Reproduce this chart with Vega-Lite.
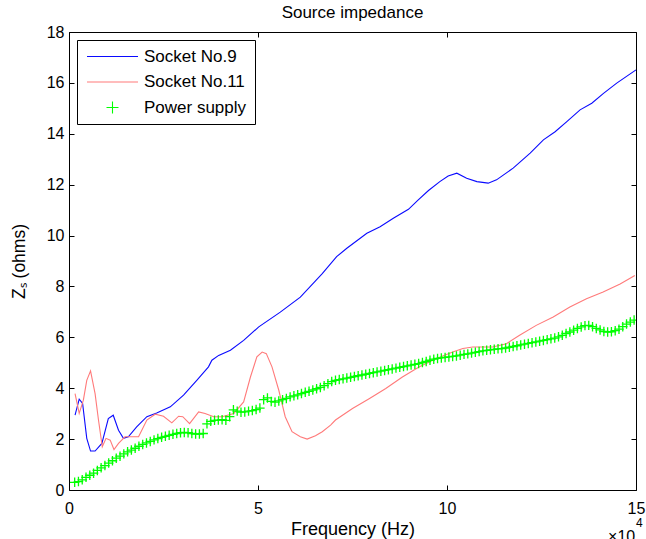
{
  "$schema": "https://vega.github.io/schema/vega-lite/v6.json",
  "width": 567,
  "height": 458,
  "autosize": {"type": "none"},
  "padding": {"left": 69, "top": 32, "right": 10, "bottom": 49},
  "background": "white",
  "title": {"text": "Source impedance", "fontSize": 17, "font": "Liberation Sans", "fontWeight": "normal", "color": "black", "offset": 2, "anchor": "middle"},
  "config": {
    "view": {"stroke": "black", "strokeWidth": 1},
    "font": "Liberation Sans",
    "axis": {"domain": false, "grid": false, "tickColor": "black", "tickSize": -5, "tickWidth": 1, "labelColor": "black", "labelFont": "Liberation Sans", "labelFontSize": 16, "titleFont": "Liberation Sans", "titleFontWeight": "normal", "titleColor": "black", "titleFontSize": 17.5}
  },
  "data": {"values": [
    {"f":0.16,"z":2.94,"series":"Socket No.9"},{"f":0.27,"z":3.57,"series":"Socket No.9"},{"f":0.36,"z":3.4,"series":"Socket No.9"},{"f":0.47,"z":2.03,"series":"Socket No.9"},{"f":0.57,"z":1.53,"series":"Socket No.9"},{"f":0.69,"z":1.53,"series":"Socket No.9"},{"f":0.87,"z":1.83,"series":"Socket No.9"},{"f":1.04,"z":2.81,"series":"Socket No.9"},{"f":1.17,"z":2.94,"series":"Socket No.9"},{"f":1.31,"z":2.35,"series":"Socket No.9"},{"f":1.44,"z":2.03,"series":"Socket No.9"},{"f":1.57,"z":2.09,"series":"Socket No.9"},{"f":1.79,"z":2.48,"series":"Socket No.9"},{"f":2.06,"z":2.88,"series":"Socket No.9"},{"f":2.32,"z":3.03,"series":"Socket No.9"},{"f":2.68,"z":3.27,"series":"Socket No.9"},{"f":3.03,"z":3.73,"series":"Socket No.9"},{"f":3.38,"z":4.31,"series":"Socket No.9"},{"f":3.69,"z":4.84,"series":"Socket No.9"},{"f":3.78,"z":5.1,"series":"Socket No.9"},{"f":3.96,"z":5.29,"series":"Socket No.9"},{"f":4.27,"z":5.49,"series":"Socket No.9"},{"f":4.62,"z":5.88,"series":"Socket No.9"},{"f":5.02,"z":6.41,"series":"Socket No.9"},{"f":5.59,"z":6.99,"series":"Socket No.9"},{"f":6.12,"z":7.58,"series":"Socket No.9"},{"f":6.7,"z":8.5,"series":"Socket No.9"},{"f":7.08,"z":9.17,"series":"Socket No.9"},{"f":7.35,"z":9.5,"series":"Socket No.9"},{"f":7.88,"z":10.09,"series":"Socket No.9"},{"f":8.23,"z":10.35,"series":"Socket No.9"},{"f":8.58,"z":10.68,"series":"Socket No.9"},{"f":8.98,"z":11.03,"series":"Socket No.9"},{"f":9.24,"z":11.4,"series":"Socket No.9"},{"f":9.51,"z":11.77,"series":"Socket No.9"},{"f":9.81,"z":12.12,"series":"Socket No.9"},{"f":10.03,"z":12.34,"series":"Socket No.9"},{"f":10.26,"z":12.45,"series":"Socket No.9"},{"f":10.52,"z":12.25,"series":"Socket No.9"},{"f":10.79,"z":12.12,"series":"Socket No.9"},{"f":11.09,"z":12.06,"series":"Socket No.9"},{"f":11.31,"z":12.19,"series":"Socket No.9"},{"f":11.75,"z":12.65,"series":"Socket No.9"},{"f":12.2,"z":13.24,"series":"Socket No.9"},{"f":12.55,"z":13.76,"series":"Socket No.9"},{"f":12.86,"z":14.08,"series":"Socket No.9"},{"f":13.17,"z":14.48,"series":"Socket No.9"},{"f":13.52,"z":14.94,"series":"Socket No.9"},{"f":13.83,"z":15.2,"series":"Socket No.9"},{"f":14.14,"z":15.59,"series":"Socket No.9"},{"f":14.49,"z":15.99,"series":"Socket No.9"},{"f":15.0,"z":16.51,"series":"Socket No.9"},
    {"f":0.16,"z":3.79,"series":"Socket No.11"},{"f":0.27,"z":3.01,"series":"Socket No.11"},{"f":0.38,"z":3.53,"series":"Socket No.11"},{"f":0.47,"z":4.31,"series":"Socket No.11"},{"f":0.57,"z":4.68,"series":"Socket No.11"},{"f":0.69,"z":3.79,"series":"Socket No.11"},{"f":0.78,"z":2.75,"series":"Socket No.11"},{"f":0.88,"z":1.7,"series":"Socket No.11"},{"f":0.98,"z":2.03,"series":"Socket No.11"},{"f":1.09,"z":1.96,"series":"Socket No.11"},{"f":1.19,"z":1.59,"series":"Socket No.11"},{"f":1.31,"z":1.83,"series":"Socket No.11"},{"f":1.48,"z":2.09,"series":"Socket No.11"},{"f":1.84,"z":2.09,"series":"Socket No.11"},{"f":2.06,"z":2.75,"series":"Socket No.11"},{"f":2.28,"z":2.98,"series":"Socket No.11"},{"f":2.5,"z":2.9,"series":"Socket No.11"},{"f":2.72,"z":2.64,"series":"Socket No.11"},{"f":2.9,"z":2.9,"series":"Socket No.11"},{"f":3.01,"z":2.88,"series":"Socket No.11"},{"f":3.19,"z":2.61,"series":"Socket No.11"},{"f":3.43,"z":3.07,"series":"Socket No.11"},{"f":3.6,"z":3.01,"series":"Socket No.11"},{"f":3.83,"z":2.88,"series":"Socket No.11"},{"f":4.05,"z":2.88,"series":"Socket No.11"},{"f":4.36,"z":3.01,"series":"Socket No.11"},{"f":4.62,"z":3.46,"series":"Socket No.11"},{"f":4.8,"z":4.44,"series":"Socket No.11"},{"f":4.97,"z":5.23,"series":"Socket No.11"},{"f":5.11,"z":5.42,"series":"Socket No.11"},{"f":5.22,"z":5.36,"series":"Socket No.11"},{"f":5.37,"z":4.84,"series":"Socket No.11"},{"f":5.55,"z":3.92,"series":"Socket No.11"},{"f":5.72,"z":2.88,"series":"Socket No.11"},{"f":5.9,"z":2.29,"series":"Socket No.11"},{"f":6.12,"z":2.09,"series":"Socket No.11"},{"f":6.3,"z":2.0,"series":"Socket No.11"},{"f":6.52,"z":2.13,"series":"Socket No.11"},{"f":6.7,"z":2.29,"series":"Socket No.11"},{"f":6.92,"z":2.55,"series":"Socket No.11"},{"f":7.05,"z":2.75,"series":"Socket No.11"},{"f":7.5,"z":3.2,"series":"Socket No.11"},{"f":7.94,"z":3.59,"series":"Socket No.11"},{"f":8.38,"z":3.99,"series":"Socket No.11"},{"f":8.82,"z":4.44,"series":"Socket No.11"},{"f":9.27,"z":4.84,"series":"Socket No.11"},{"f":9.71,"z":5.16,"series":"Socket No.11"},{"f":10.15,"z":5.42,"series":"Socket No.11"},{"f":10.42,"z":5.56,"series":"Socket No.11"},{"f":10.68,"z":5.62,"series":"Socket No.11"},{"f":11.21,"z":5.62,"series":"Socket No.11"},{"f":11.57,"z":5.75,"series":"Socket No.11"},{"f":11.92,"z":6.08,"series":"Socket No.11"},{"f":12.36,"z":6.47,"series":"Socket No.11"},{"f":12.81,"z":6.8,"series":"Socket No.11"},{"f":13.25,"z":7.19,"series":"Socket No.11"},{"f":13.69,"z":7.52,"series":"Socket No.11"},{"f":14.13,"z":7.78,"series":"Socket No.11"},{"f":14.58,"z":8.1,"series":"Socket No.11"},{"f":14.97,"z":8.43,"series":"Socket No.11"},
    {"f":0.15,"z":0.3,"series":"Power supply"},{"f":0.25,"z":0.33,"series":"Power supply"},{"f":0.35,"z":0.4,"series":"Power supply"},{"f":0.45,"z":0.5,"series":"Power supply"},{"f":0.55,"z":0.58,"series":"Power supply"},{"f":0.65,"z":0.66,"series":"Power supply"},{"f":0.75,"z":0.77,"series":"Power supply"},{"f":0.85,"z":0.87,"series":"Power supply"},{"f":0.95,"z":0.96,"series":"Power supply"},{"f":1.05,"z":1.06,"series":"Power supply"},{"f":1.15,"z":1.15,"series":"Power supply"},{"f":1.25,"z":1.25,"series":"Power supply"},{"f":1.35,"z":1.33,"series":"Power supply"},{"f":1.45,"z":1.42,"series":"Power supply"},{"f":1.55,"z":1.5,"series":"Power supply"},{"f":1.65,"z":1.57,"series":"Power supply"},{"f":1.75,"z":1.64,"series":"Power supply"},{"f":1.85,"z":1.72,"series":"Power supply"},{"f":1.95,"z":1.79,"series":"Power supply"},{"f":2.05,"z":1.85,"series":"Power supply"},{"f":2.15,"z":1.91,"series":"Power supply"},{"f":2.25,"z":1.97,"series":"Power supply"},{"f":2.35,"z":2.02,"series":"Power supply"},{"f":2.45,"z":2.07,"series":"Power supply"},{"f":2.55,"z":2.11,"series":"Power supply"},{"f":2.65,"z":2.15,"series":"Power supply"},{"f":2.75,"z":2.19,"series":"Power supply"},{"f":2.85,"z":2.22,"series":"Power supply"},{"f":2.95,"z":2.25,"series":"Power supply"},{"f":3.05,"z":2.26,"series":"Power supply"},{"f":3.15,"z":2.25,"series":"Power supply"},{"f":3.25,"z":2.22,"series":"Power supply"},{"f":3.35,"z":2.2,"series":"Power supply"},{"f":3.45,"z":2.2,"series":"Power supply"},{"f":3.55,"z":2.22,"series":"Power supply"},{"f":3.65,"z":2.6,"series":"Power supply"},{"f":3.75,"z":2.7,"series":"Power supply"},{"f":3.85,"z":2.74,"series":"Power supply"},{"f":3.95,"z":2.75,"series":"Power supply"},{"f":4.05,"z":2.76,"series":"Power supply"},{"f":4.15,"z":2.74,"series":"Power supply"},{"f":4.25,"z":2.88,"series":"Power supply"},{"f":4.35,"z":3.15,"series":"Power supply"},{"f":4.45,"z":3.1,"series":"Power supply"},{"f":4.55,"z":3.06,"series":"Power supply"},{"f":4.65,"z":3.07,"series":"Power supply"},{"f":4.75,"z":3.1,"series":"Power supply"},{"f":4.85,"z":3.12,"series":"Power supply"},{"f":4.95,"z":3.16,"series":"Power supply"},{"f":5.05,"z":3.22,"series":"Power supply"},{"f":5.15,"z":3.55,"series":"Power supply"},{"f":5.25,"z":3.62,"series":"Power supply"},{"f":5.35,"z":3.48,"series":"Power supply"},{"f":5.45,"z":3.45,"series":"Power supply"},{"f":5.55,"z":3.5,"series":"Power supply"},{"f":5.65,"z":3.55,"series":"Power supply"},{"f":5.75,"z":3.6,"series":"Power supply"},{"f":5.85,"z":3.66,"series":"Power supply"},{"f":5.95,"z":3.7,"series":"Power supply"},{"f":6.05,"z":3.74,"series":"Power supply"},{"f":6.15,"z":3.79,"series":"Power supply"},{"f":6.25,"z":3.84,"series":"Power supply"},{"f":6.35,"z":3.88,"series":"Power supply"},{"f":6.45,"z":3.93,"series":"Power supply"},{"f":6.55,"z":3.98,"series":"Power supply"},{"f":6.65,"z":4.03,"series":"Power supply"},{"f":6.75,"z":4.1,"series":"Power supply"},{"f":6.85,"z":4.18,"series":"Power supply"},{"f":6.95,"z":4.26,"series":"Power supply"},{"f":7.05,"z":4.31,"series":"Power supply"},{"f":7.15,"z":4.34,"series":"Power supply"},{"f":7.25,"z":4.37,"series":"Power supply"},{"f":7.35,"z":4.4,"series":"Power supply"},{"f":7.45,"z":4.43,"series":"Power supply"},{"f":7.55,"z":4.46,"series":"Power supply"},{"f":7.65,"z":4.49,"series":"Power supply"},{"f":7.75,"z":4.52,"series":"Power supply"},{"f":7.85,"z":4.55,"series":"Power supply"},{"f":7.95,"z":4.58,"series":"Power supply"},{"f":8.05,"z":4.61,"series":"Power supply"},{"f":8.15,"z":4.64,"series":"Power supply"},{"f":8.25,"z":4.67,"series":"Power supply"},{"f":8.35,"z":4.7,"series":"Power supply"},{"f":8.45,"z":4.73,"series":"Power supply"},{"f":8.55,"z":4.76,"series":"Power supply"},{"f":8.65,"z":4.79,"series":"Power supply"},{"f":8.75,"z":4.82,"series":"Power supply"},{"f":8.85,"z":4.85,"series":"Power supply"},{"f":8.95,"z":4.88,"series":"Power supply"},{"f":9.05,"z":4.91,"series":"Power supply"},{"f":9.15,"z":4.94,"series":"Power supply"},{"f":9.25,"z":4.97,"series":"Power supply"},{"f":9.35,"z":5.01,"series":"Power supply"},{"f":9.45,"z":5.05,"series":"Power supply"},{"f":9.55,"z":5.1,"series":"Power supply"},{"f":9.65,"z":5.14,"series":"Power supply"},{"f":9.75,"z":5.17,"series":"Power supply"},{"f":9.85,"z":5.19,"series":"Power supply"},{"f":9.95,"z":5.21,"series":"Power supply"},{"f":10.05,"z":5.23,"series":"Power supply"},{"f":10.15,"z":5.25,"series":"Power supply"},{"f":10.25,"z":5.27,"series":"Power supply"},{"f":10.35,"z":5.3,"series":"Power supply"},{"f":10.45,"z":5.33,"series":"Power supply"},{"f":10.55,"z":5.35,"series":"Power supply"},{"f":10.65,"z":5.38,"series":"Power supply"},{"f":10.75,"z":5.41,"series":"Power supply"},{"f":10.85,"z":5.44,"series":"Power supply"},{"f":10.95,"z":5.47,"series":"Power supply"},{"f":11.05,"z":5.49,"series":"Power supply"},{"f":11.15,"z":5.51,"series":"Power supply"},{"f":11.25,"z":5.53,"series":"Power supply"},{"f":11.35,"z":5.55,"series":"Power supply"},{"f":11.45,"z":5.56,"series":"Power supply"},{"f":11.55,"z":5.58,"series":"Power supply"},{"f":11.65,"z":5.61,"series":"Power supply"},{"f":11.75,"z":5.64,"series":"Power supply"},{"f":11.85,"z":5.67,"series":"Power supply"},{"f":11.95,"z":5.7,"series":"Power supply"},{"f":12.05,"z":5.73,"series":"Power supply"},{"f":12.15,"z":5.76,"series":"Power supply"},{"f":12.25,"z":5.79,"series":"Power supply"},{"f":12.35,"z":5.82,"series":"Power supply"},{"f":12.45,"z":5.85,"series":"Power supply"},{"f":12.55,"z":5.88,"series":"Power supply"},{"f":12.65,"z":5.91,"series":"Power supply"},{"f":12.75,"z":5.94,"series":"Power supply"},{"f":12.85,"z":5.97,"series":"Power supply"},{"f":12.95,"z":6.02,"series":"Power supply"},{"f":13.05,"z":6.08,"series":"Power supply"},{"f":13.15,"z":6.15,"series":"Power supply"},{"f":13.25,"z":6.21,"series":"Power supply"},{"f":13.35,"z":6.28,"series":"Power supply"},{"f":13.45,"z":6.35,"series":"Power supply"},{"f":13.55,"z":6.41,"series":"Power supply"},{"f":13.65,"z":6.46,"series":"Power supply"},{"f":13.75,"z":6.47,"series":"Power supply"},{"f":13.85,"z":6.42,"series":"Power supply"},{"f":13.95,"z":6.35,"series":"Power supply"},{"f":14.05,"z":6.29,"series":"Power supply"},{"f":14.15,"z":6.23,"series":"Power supply"},{"f":14.25,"z":6.21,"series":"Power supply"},{"f":14.35,"z":6.22,"series":"Power supply"},{"f":14.45,"z":6.26,"series":"Power supply"},{"f":14.55,"z":6.32,"series":"Power supply"},{"f":14.65,"z":6.42,"series":"Power supply"},{"f":14.75,"z":6.52,"series":"Power supply"},{"f":14.85,"z":6.6,"series":"Power supply"},{"f":14.95,"z":6.68,"series":"Power supply"}
  ]},
  "layer": [
    {
      "transform": [{"filter": "datum.series !== 'Power supply'"}],
      "mark": {"type": "line", "strokeWidth": 1.1, "clip": true},
      "encoding": {
        "x": {"field": "f", "type": "quantitative", "scale": {"domain": [0, 15], "nice": false, "zero": false},
              "axis": {"orient": "bottom", "values": [0, 5, 10, 15], "labelPadding": 15, "labelFlush": false, "title": "Frequency (Hz)", "titleFontSize": 18, "titlePadding": 4}},
        "y": {"field": "z", "type": "quantitative", "scale": {"domain": [0, 18], "nice": false},
              "axis": {"orient": "left", "values": [0, 2, 4, 6, 8, 10, 12, 14, 16, 18], "labelPadding": 10, "labelFlush": false, "title": "Zₛ (ohms)", "titlePadding": 18}},
        "color": {"field": "series", "type": "nominal",
                  "scale": {"domain": ["Socket No.9", "Socket No.11", "Power supply"], "range": ["#0a0aff", "#ff7a7a", "#00ff00"]},
                  "legend": {"orient": "top-left", "offset": 8, "title": null, "symbolType": "stroke", "symbolSize": 144, "symbolStrokeWidth": 1.1, "symbolOffset": 19, "labelOffset": 23, "labelFontSize": 17, "labelFont": "Liberation Sans", "labelColor": "black", "padding": 8, "rowPadding": 7.5, "strokeColor": "black", "fillColor": "white", "cornerRadius": 0,
                             "encode": {"symbols": {"update": {"shape": {"signal": "datum.value === 'Power supply' ? 'M-1,0L1,0M0,-1L0,1' : 'M-4.25,0L4.25,0'"}, "fill": {"value": "transparent"}}}}}}
      }
    },
    {
      "transform": [{"filter": "datum.series === 'Power supply'"}],
      "mark": {"type": "point", "shape": "M-1,0L1,0M0,-1L0,1", "filled": false, "size": 90, "strokeWidth": 1.3, "color": "#00ff00", "opacity": 1, "clip": true},
      "encoding": {
        "x": {"field": "f", "type": "quantitative", "scale": {"domain": [0, 15], "nice": false, "zero": false},
              "axis": {"orient": "top", "values": [0, 5, 10, 15], "labels": false, "title": null}},
        "y": {"field": "z", "type": "quantitative", "scale": {"domain": [0, 18], "nice": false},
              "axis": {"orient": "right", "values": [0, 2, 4, 6, 8, 10, 12, 14, 16, 18], "labels": false, "title": null}}
      }
    },
    {
      "data": {"values": [{"label": "×10"}]},
      "mark": {"type": "text", "align": "right", "baseline": "alphabetic", "fontSize": 16, "font": "Liberation Sans", "color": "black"},
      "encoding": {
        "x": {"datum": 14.98, "type": "quantitative", "axis": null},
        "y": {"datum": -2.06, "type": "quantitative", "axis": null},
        "text": {"field": "label"}
      }
    },
    {
      "data": {"values": [{"label": "4"}]},
      "mark": {"type": "text", "align": "left", "baseline": "alphabetic", "fontSize": 12, "font": "Liberation Sans", "color": "black"},
      "encoding": {
        "x": {"datum": 15.0, "type": "quantitative", "axis": null},
        "y": {"datum": -1.45, "type": "quantitative", "axis": null},
        "text": {"field": "label"}
      }
    }
  ],
  "resolve": {"axis": {"x": "independent", "y": "independent"}}
}
